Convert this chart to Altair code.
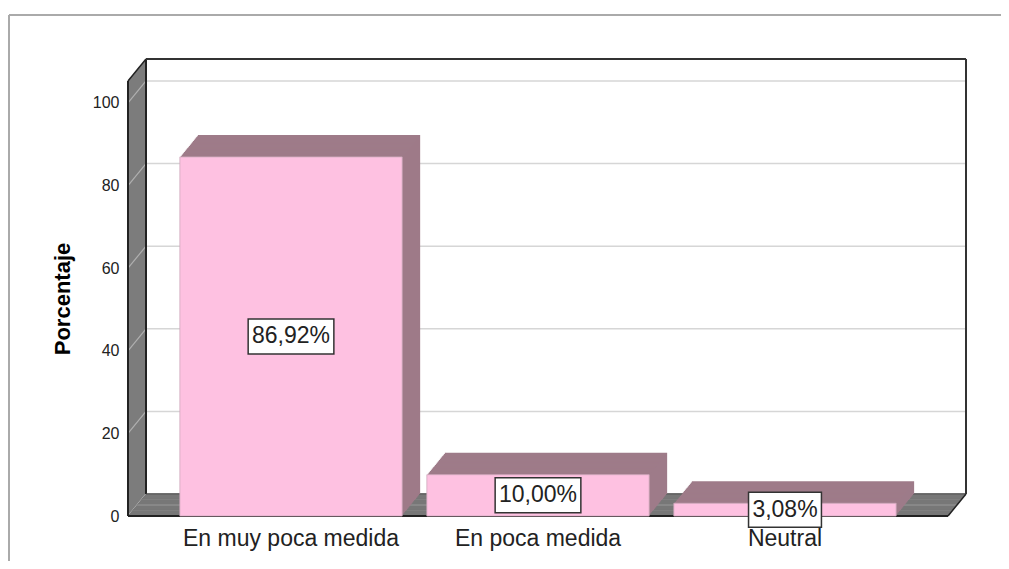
import altair as alt
import pandas as pd

# ---- data ----
categories = ["En muy poca medida", "En poca medida", "Neutral"]
percentages = [86.92, 10.00, 3.08]
y_ticks = [0, 20, 40, 60, 80, 100]

# ---- layout / style ----
W, H = 820, 435
TOP = 105.3          # top of the walls in axis units
DX, DY = 18, 22      # 3-D depth offset in pixels
K = DY / DX
FONT = "Liberation Sans"
PINK = "#fec1e1"
MAUVE = "#9e7b89"
GREY = "#777777"
EDGE = "#222222"
GRID = "#d6d6d6"

bars = pd.DataFrame({"cat": categories, "pct": percentages})
ticks = pd.DataFrame({"t": y_ticks})
one = pd.DataFrame({"zero": [0.0], "top": [TOP]})

yscale = alt.Scale(domain=[0, TOP], nice=False, zero=True)
xscale = alt.Scale(domain=categories, paddingInner=0.1, paddingOuter=0.21)

yaxis = alt.Axis(values=y_ticks, title="Porcentaje", domain=False, ticks=False,
                 grid=False, labelFontSize=16, labelFont=FONT,
                 labelColor="#222222", labelPadding=9,
                 titleFontSize=22, titleFont=FONT, titleFontWeight="bold",
                 titleColor="#000000", titlePadding=18)
xaxis = alt.Axis(title=None, labelAngle=0, domain=False, ticks=False,
                 labelFontSize=23, labelFont=FONT, labelColor="#222222",
                 labelPadding=11, labelLimit=0)


def Yq(field):
    return alt.Y(field, type="quantitative", scale=yscale, axis=yaxis, title="Porcentaje")


def Xc():
    return alt.X("cat:N", scale=xscale, sort=categories, axis=xaxis, title=None)


layers = []

# outer frame (decoration)
frame = alt.Chart(one)
layers.append(frame.mark_rule(color="#aaaaaa", strokeWidth=2).encode(
    x=alt.value(-119), x2=alt.value(890), y=alt.value(-66)))
layers.append(frame.mark_rule(color="#aaaaaa", strokeWidth=2).encode(
    x=alt.value(-119), y=alt.value(-66), y2=alt.value(500)))

# back wall
layers.append(alt.Chart(one).mark_rect(color="white", yOffset=-DY, y2Offset=-DY).encode(
    x=alt.value(DX), x2=alt.value(W + DX), y=Yq("zero"), y2="top"))
layers.append(alt.Chart(ticks).transform_filter("datum.t > 0").mark_rule(
    color=GRID, strokeWidth=1.5, yOffset=-DY).encode(
    x=alt.value(DX), x2=alt.value(W + DX), y=Yq("t")))

# left wall (swept)
for i in range(0, DX + 1):
    layers.append(alt.Chart(one).mark_rule(
        color=GREY, strokeWidth=1.6, xOffset=i, yOffset=-i * K, y2Offset=-i * K).encode(
        x=alt.value(0), y=Yq("zero"), y2="top"))
# wall gridline diagonals
layers.append(alt.Chart(ticks).mark_rule(color="#b0b0b0", strokeWidth=1.2, y2Offset=-DY).encode(
    x=alt.value(0), x2=alt.value(DX), y=Yq("t"), y2="t"))

# floor (swept)
for i in range(0, DX + 1):
    layers.append(alt.Chart(one).mark_rule(
        color=GREY, strokeWidth=1.6, xOffset=i, x2Offset=i, yOffset=-i * K).encode(
        x=alt.value(0), x2=alt.value(W), y=Yq("zero")))

# edges
e = alt.Chart(one)
layers += [
    e.mark_rule(color=EDGE, strokeWidth=2).encode(x=alt.value(0), y=Yq("zero"), y2="top"),
    e.mark_rule(color=EDGE, strokeWidth=2, xOffset=DX, yOffset=-DY, y2Offset=-DY).encode(
        x=alt.value(0), y=Yq("zero"), y2="top"),
    e.mark_rule(color=EDGE, strokeWidth=1.5, y2Offset=-DY).encode(
        x=alt.value(0), x2=alt.value(DX), y=Yq("top"), y2="top"),
    e.mark_rule(color=EDGE, strokeWidth=2).encode(x=alt.value(0), x2=alt.value(W), y=Yq("zero")),
    e.mark_rule(color="#444444", strokeWidth=1, yOffset=-DY).encode(
        x=alt.value(DX), x2=alt.value(W + DX), y=Yq("zero")),
    e.mark_rule(color=EDGE, strokeWidth=1.5, y2Offset=-DY).encode(
        x=alt.value(W), x2=alt.value(W + DX), y=Yq("zero"), y2="zero"),
    e.mark_rule(color="#333333", strokeWidth=2, yOffset=-DY).encode(
        x=alt.value(DX), x2=alt.value(W + DX), y=Yq("top")),
    e.mark_rule(color="#333333", strokeWidth=2, yOffset=-DY, y2Offset=-DY).encode(
        x=alt.value(W + DX), y=Yq("zero"), y2="top"),
]

# bars: swept depth
for i in range(DX, 0, -1):
    layers.append(alt.Chart(bars).mark_bar(
        color=MAUVE, xOffset=i, x2Offset=i, yOffset=-i * K, y2Offset=-i * K).encode(
        x=Xc(), y=Yq("pct")))

# bars: front face
layers.append(alt.Chart(bars).mark_bar(color=PINK, stroke="#cfaabd", strokeWidth=0.8).encode(
    x=Xc(), y=Yq("pct")))

# value labels with boxes
lab = alt.Chart(bars).transform_calculate(
    label="replace(format(datum.pct, '.2f'), '.', ',') + '%'",
    mid="datum.pct / 2",
).transform_calculate(
    boxw="(length(datum.label) - 2) * 12.8 + 34.5",
).transform_calculate(
    path="'M' + (-datum.boxw / 2) + ',-17.5H' + (datum.boxw / 2) + 'V17.5H' + (-datum.boxw / 2) + 'Z'",
)
layers.append(lab.mark_point(filled=True, color="white", stroke="#333333", strokeWidth=1.5,
                             opacity=1, size=4).encode(
    x=Xc(), y=Yq("mid"),
    shape=alt.Shape("path:N", scale=None, legend=None)))
layers.append(lab.mark_text(fontSize=23, font=FONT, color="#222222", baseline="middle").encode(
    x=Xc(), y=Yq("mid"), text="label:N"))

chart = alt.layer(*layers).properties(
    width=W, height=H,
    autosize=alt.AutoSizeParams(type="none"),
    padding={"left": 120, "top": 73, "right": 53, "bottom": 45},
    background="white",
).configure_view(stroke=None)

chart.save("out.html", embed_options={"renderer": "svg", "actions": False})
